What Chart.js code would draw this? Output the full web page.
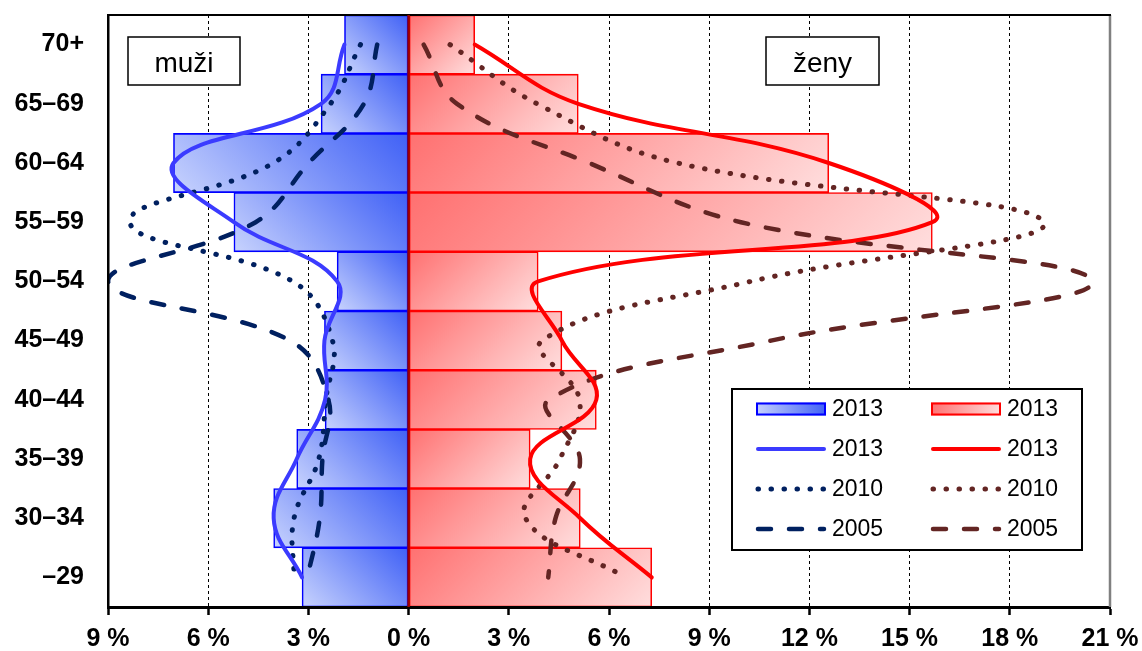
<!DOCTYPE html>
<html lang="cs">
<head>
<meta charset="UTF-8">
<title>muži / ženy</title>
<script src="https://cdn.jsdelivr.net/npm/chart.js@4.4.1/dist/chart.umd.min.js"></script>
<style>
  html, body { margin: 0; padding: 0; background: #fff; }
</style>
</head>
<body>
<canvas id="pyramid" width="1142" height="651"></canvas>
<script>
// age groups, top to bottom
const categories = ['70+', '65–69', '60–64', '55–59', '50–54', '45–49', '40–44', '35–39', '30–34', '–29'];
const xTicks = [-9, -6, -3, 0, 3, 6, 9, 12, 15, 18, 21];
const xTickLabels = ['9 %', '6 %', '3 %', '0 %', '3 %', '6 %', '9 %', '12 %', '15 %', '18 %', '21 %'];

// men are negative (left side)
const men2013 = [-1.92, -2.62, -7.04, -5.23, -2.14, -2.52, -2.50, -3.35, -4.04, -3.19];
const women2013 = [1.98, 5.08, 12.58, 15.68, 3.88, 4.59, 5.62, 3.64, 5.14, 7.28];
const men2010 = [-1.44, -2.34, -4.05, -8.35, -3.47, -2.28, -2.48, -2.69, -3.43, -3.43];
const women2010 = [1.24, 3.85, 8.05, 19.02, 10.25, 4.00, 5.12, 4.53, 3.50, 6.50];
const men2005 = [-0.94, -1.34, -2.99, -4.58, -9.00, -3.55, -2.40, -2.58, -2.66, -3.03];
const women2005 = [0.45, 1.45, 5.40, 9.95, 20.47, 10.85, 4.20, 5.13, 4.40, 4.18];

const FONT = "Arial, 'Liberation Sans', sans-serif";
const MEN = { dark: '#3f60f6', light: '#c8d3fd', border: '#0000ff', line: '#3b3bff', old: '#002060' };
const WOMEN = { dark: '#ff7070', light: '#ffdede', border: '#ff0000', line: '#ff0000', old: '#632523' };

// 45 degree gradient per bar, dark at the corner on the axis, top
function barFill(ctx, col) {
  const chart = ctx.chart;
  if (!chart.chartArea || ctx.type !== 'data') return col.dark;
  const xs = chart.scales.x, ys = chart.scales.y;
  const x0 = xs.getPixelForValue(0);
  const x1 = xs.getPixelForValue(ctx.raw);
  const yc = ys.getPixelForValue(ctx.dataIndex);
  const h = Math.abs(ys.getPixelForValue(1) - ys.getPixelForValue(0));
  const d = (Math.abs(x1 - x0) + h) / 2;
  const s = x1 < x0 ? -1 : 1;
  const g = chart.ctx.createLinearGradient(x0, yc - h / 2, x0 + s * d, yc - h / 2 + d);
  g.addColorStop(0, col.dark);
  g.addColorStop(1, col.light);
  return g;
}

function bars(data, col) {
  return {
    type: 'bar', label: '2013', data: data, order: 10, grouped: false,
    backgroundColor: c => barFill(c, col),
    borderColor: col.border, borderWidth: 1.6, borderSkipped: false,
    barPercentage: 1, categoryPercentage: 1
  };
}

function line(label, data, color, kind) {
  const ds = {
    type: 'line', label: label, data: data, borderColor: color,
    pointRadius: 0, tension: 0.4, fill: false, borderCapStyle: 'round', borderJoinStyle: 'round'
  };
  if (kind === 'solid') { ds.borderWidth = 4; ds.order = 1; }
  if (kind === 'dot') { ds.borderWidth = 5; ds.borderDash = [0.5, 12.5]; ds.order = 2; }
  if (kind === 'dash') { ds.borderWidth = 4.5; ds.borderDash = [13, 18]; ds.order = 3; }
  return ds;
}

const datasets = [
  bars(men2013, MEN),
  line('2013', men2013, MEN.line, 'solid'),
  line('2010', men2010, MEN.old, 'dot'),
  line('2005', men2005, MEN.old, 'dash'),
  bars(women2013, WOMEN),
  line('2013', women2013, WOMEN.line, 'solid'),
  line('2010', women2010, WOMEN.old, 'dot'),
  line('2005', women2005, WOMEN.old, 'dash')
];

function labelBox(ctx, text, x, y, w, h) {
  ctx.fillStyle = '#fff';
  ctx.fillRect(x, y, w, h);
  ctx.strokeStyle = '#000';
  ctx.lineWidth = 1.5;
  ctx.strokeRect(x, y, w, h);
  ctx.fillStyle = '#000';
  ctx.font = '28px ' + FONT;
  ctx.textAlign = 'center';
  ctx.textBaseline = 'alphabetic';
  ctx.fillText(text, x + w / 2, y + 35);
}

function legendSymbol(ctx, ds, col, x, y) {
  const w = 70;
  if (ds.type === 'bar') {
    const left = col === MEN;
    const g = ctx.createLinearGradient(left ? x + w : x, y - 6, left ? x : x + w, y + 6);
    g.addColorStop(0, col.dark);
    g.addColorStop(1, col.light);
    ctx.fillStyle = g;
    ctx.fillRect(x, y - 6.5, w, 13);
    ctx.strokeStyle = col.border;
    ctx.lineWidth = 2;
    ctx.strokeRect(x + 1, y - 5.5, w - 2, 11);
    return;
  }
  ctx.save();
  ctx.strokeStyle = ds.borderColor;
  ctx.lineWidth = ds.borderWidth;
  ctx.lineCap = 'round';
  ctx.setLineDash(ds.borderDash || []);
  ctx.beginPath();
  ctx.moveTo(x + 2, y);
  ctx.lineTo(x + w - 2, y);
  ctx.stroke();
  ctx.restore();
}

const decor = {
  id: 'decor',
  afterDraw(chart) {
    const { ctx, chartArea: a, scales: { x: xs } } = chart;
    ctx.save();
    // frame: top black, right grey
    ctx.strokeStyle = '#808080';
    ctx.lineWidth = 2.5;
    ctx.beginPath(); ctx.moveTo(a.right, a.top); ctx.lineTo(a.right, a.bottom); ctx.stroke();
    ctx.strokeStyle = '#000';
    ctx.lineWidth = 2;
    ctx.beginPath(); ctx.moveTo(a.left, a.top); ctx.lineTo(a.right + 1, a.top); ctx.stroke();
    // vertical axis at 0
    const x0 = xs.getPixelForValue(0);
    ctx.strokeStyle = '#990000';
    ctx.lineWidth = 2.5;
    ctx.beginPath(); ctx.moveTo(x0, a.top); ctx.lineTo(x0, a.bottom); ctx.stroke();

    labelBox(ctx, 'muži', a.left + 20, a.top + 22, 112, 48);
    labelBox(ctx, 'ženy', a.left + 658, a.top + 22, 113, 48);

    // legend, two columns
    const lx = a.left + 624, ly = a.top + 374;
    ctx.fillStyle = '#fff';
    ctx.fillRect(lx, ly, 350, 161);
    ctx.strokeStyle = '#000';
    ctx.lineWidth = 2;
    ctx.strokeRect(lx, ly, 350, 161);
    ctx.font = '23px ' + FONT;
    ctx.textAlign = 'left';
    ctx.textBaseline = 'middle';
    for (let i = 0; i < 8; i++) {
      const ds = chart.data.datasets[i];
      const col = i < 4 ? MEN : WOMEN;
      const cx = lx + (i < 4 ? 24 : 199);
      const cy = ly + 20 + (i % 4) * 40;
      legendSymbol(ctx, ds, col, cx, cy);
      ctx.fillStyle = '#000';
      ctx.fillText(ds.label, cx + 76, cy + 1);
    }
    ctx.restore();
  }
};

new Chart(document.getElementById('pyramid'), {
  data: { labels: categories, datasets: datasets },
  options: {
    indexAxis: 'y',
    responsive: false,
    animation: false,
    layout: { padding: { top: 15, right: 32, left: 0, bottom: 0 } },
    plugins: { legend: { display: false }, tooltip: { enabled: false } },
    scales: {
      x: {
        type: 'linear', min: -9, max: 21,
        afterBuildTicks: s => { s.ticks = xTicks.map(v => ({ value: v })); },
        afterFit: s => { s.height = 44; s.paddingLeft = 0; s.paddingRight = 0; },
        ticks: {
          callback: v => xTickLabels[xTicks.indexOf(v)],
          font: { family: FONT, size: 25, weight: 'bold' },
          color: '#000', padding: 9, maxRotation: 0, autoSkip: false
        },
        grid: {
          color: c => (c.tick && c.tick.value === 0) ? 'rgba(0,0,0,0)' : '#000',
          lineWidth: 1, tickColor: '#000', tickWidth: 2.5, tickLength: 8, tickBorderDash: []
        },
        border: { color: '#000', width: 3, dash: [3, 3], z: 1 }
      },
      y: {
        type: 'category', offset: true,
        afterFit: s => { s.width = 108; s.paddingTop = 0; s.paddingBottom = 0; },
        ticks: { font: { family: FONT, size: 25, weight: 'bold' }, color: '#000', padding: 24, autoSkip: false },
        grid: { display: false, drawTicks: false },
        border: { color: '#000', width: 2.5, z: 1 }
      }
    }
  },
  plugins: [decor]
});
</script>
</body>
</html>
